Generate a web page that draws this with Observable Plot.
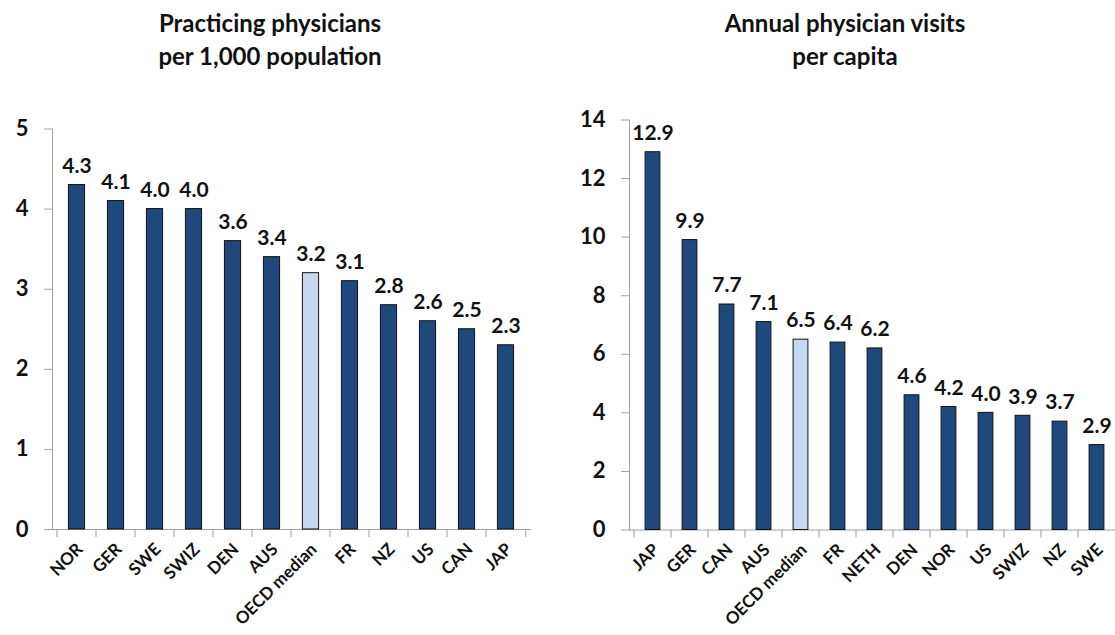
<!DOCTYPE html>
<html>
<head>
<meta charset="utf-8">
<script src="https://cdn.jsdelivr.net/npm/d3@7"></script>
<script src="https://cdn.jsdelivr.net/npm/@observablehq/plot@0.6"></script>
<style>
  html, body { margin: 0; padding: 0; background: #fff; overflow: hidden; }
  #root { position: relative; width: 1115px; height: 635px; overflow: hidden; font-family: Lato, "Open Sans", sans-serif; }
  .title { position: absolute; text-align: center; font-weight: bold; font-size: 24px; line-height: 33px; color: #111; }
  .panel { position: absolute; }
</style>
</head>
<body>
<div id="root"></div>
<script>
// ---- Data ----
const leftTitle = ["Practicing physicians", "per 1,000 population"];
const leftCategories = ["NOR", "GER", "SWE", "SWIZ", "DEN", "AUS", "OECD median", "FR", "NZ", "US", "CAN", "JAP"];
const leftValues = [4.3, 4.1, 4.0, 4.0, 3.6, 3.4, 3.2, 3.1, 2.8, 2.6, 2.5, 2.3];
const leftTicks = [0, 1, 2, 3, 4, 5];

const rightTitle = ["Annual physician visits", "per capita"];
const rightCategories = ["JAP", "GER", "CAN", "AUS", "OECD median", "FR", "NETH", "DEN", "NOR", "US", "SWIZ", "NZ", "SWE"];
const rightValues = [12.9, 9.9, 7.7, 7.1, 6.5, 6.4, 6.2, 4.6, 4.2, 4.0, 3.9, 3.7, 2.9];
const rightTicks = [0, 2, 4, 6, 8, 10, 12, 14];

const highlight = "OECD median";

// ---- Styles ----
const navy = "#1f497d";
const light = "#c6d9f1";
const axisGray = "#a0a0a0";

function panel({cats, vals, ticks, width, height, marginLeft, marginRight, marginTop, marginBottom, barWidth}) {
  const data = cats.map((c, i) => ({c, v: vals[i]}));
  const step = (width - marginLeft - marginRight) / cats.length;
  const inset = (step - barWidth) / 2;
  const yMax = ticks[ticks.length - 1];
  return Plot.plot({
    width, height, marginLeft, marginRight, marginTop, marginBottom,
    style: {fontFamily: "Lato, 'Open Sans', sans-serif", color: "#111", overflow: "visible"},
    x: {domain: cats, padding: 0, label: null},
    y: {domain: [0, yMax], label: null},
    marks: [
      Plot.frame({anchor: "left", stroke: axisGray}),
      Plot.frame({anchor: "bottom", stroke: axisGray}),
      (index, scales) => {
        const g = d3.create("svg:g").attr("stroke", axisGray).attr("stroke-width", 1);
        const y0 = scales.y(0);
        const xs = cats.map(c => scales.x(c));
        xs.push(scales.x(cats[cats.length - 1]) + step);
        for (const x of xs) {
          g.append("line").attr("x1", x).attr("x2", x).attr("y1", y0).attr("y2", y0 + 8);
        }
        return g.node();
      },
      Plot.barY(data, {
        x: "c", y: "v",
        fill: d => d.c === highlight ? light : navy,
        stroke: "#111", strokeWidth: 1,
        insetLeft: inset, insetRight: inset
      }),
      Plot.text(data, {
        x: "c", y: "v", text: d => d.v.toFixed(1),
        dy: -19, fontSize: 21, fontWeight: "bold", fill: "#111"
      }),
      Plot.axisY({ticks, tickFormat: "d", tickSize: 8, tickPadding: 16, fontSize: 22, fontWeight: "bold", stroke: axisGray, fill: "#111"}),
      Plot.axisX({tickSize: 0, tickRotate: -45, tickPadding: 17, dx: 3, fontSize: 17, fontWeight: "bold", fill: "#111"})
    ]
  });
}

const root = document.getElementById("root");

function addTitle(lines, left, width) {
  const t = document.createElement("div");
  t.className = "title";
  t.style.left = left + "px";
  t.style.width = width + "px";
  t.style.top = "6px";
  t.innerHTML = lines.join("<br>");
  root.appendChild(t);
}
addTitle(leftTitle, 120, 300);
addTitle(rightTitle, 695, 300);

const left = panel({cats: leftCategories, vals: leftValues, ticks: leftTicks,
  width: 555, height: 545, marginLeft: 52, marginRight: 25, marginTop: 38.5, marginBottom: 106, barWidth: 17});
left.classList.add("panel");
left.style.left = "0px"; left.style.top = "90px";
root.appendChild(left);

const right = panel({cats: rightCategories, vals: rightValues, ticks: rightTicks,
  width: 560, height: 545, marginLeft: 69, marginRight: 1, marginTop: 29.5, marginBottom: 105.5, barWidth: 15.5});
right.classList.add("panel");
right.style.left = "560px"; right.style.top = "90px";
root.appendChild(right);
</script>
</body>
</html>
